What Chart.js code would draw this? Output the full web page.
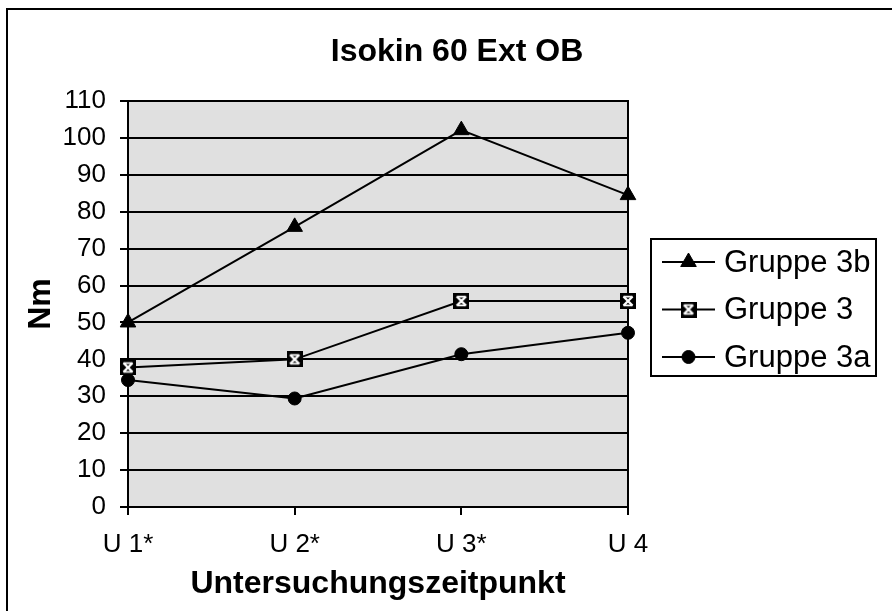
<!DOCTYPE html>
<html><head><meta charset="utf-8">
<script src="https://cdn.jsdelivr.net/npm/chart.js@4/dist/chart.umd.min.js"></script>
<style>html,body{margin:0;padding:0;background:#fff}canvas{display:block}</style>
</head><body>
<canvas id="c" width="892" height="611"></canvas>
<script>
const categories = ['U 1*', 'U 2*', 'U 3*', 'U 4'];
const seriesNames = ['Gruppe 3b', 'Gruppe 3', 'Gruppe 3a'];
const gruppe3b = [50, 75.9, 102.1, 84.5];
const gruppe3 = [37.8, 40.0, 55.8, 55.8];
const gruppe3a = [34.4, 29.4, 41.4, 47.2];
const yMin = 0, yMax = 110, yStep = 10;
const chartTitle = 'Isokin 60 Ext OB';
const xTitle = 'Untersuchungszeitpunkt';
const yTitle = 'Nm';

const FONT = "'Liberation Sans', Arial, sans-serif";
Chart.defaults.font.family = FONT;
Chart.defaults.color = '#000';

function starMarker() {
  const s = 16;
  const c = document.createElement('canvas');
  c.width = s; c.height = s;
  const g = c.getContext('2d');
  g.fillStyle = '#000';
  g.fillRect(0, 0, s, s);
  g.strokeStyle = '#fff';
  g.lineCap = 'butt';
  g.lineWidth = 2.4;
  g.beginPath();
  g.moveTo(3.5, 3.5); g.lineTo(12.5, 12.5);
  g.moveTo(12.5, 3.5); g.lineTo(3.5, 12.5);
  g.stroke();
  g.lineWidth = 1.6;
  g.beginPath();
  g.moveTo(3.5, 3.6); g.lineTo(12.5, 3.6);
  g.moveTo(3.5, 12.4); g.lineTo(12.5, 12.4);
  g.stroke();
  return c;
}
const star = starMarker();

const styles = [
  { pointStyle: 'triangle', radius: 9 },
  { pointStyle: star, radius: 8 },
  { pointStyle: 'circle', radius: 6.5 }
];
const seriesData = [gruppe3b, gruppe3, gruppe3a];

const datasets = seriesNames.map((name, i) => ({
  label: name,
  data: seriesData[i],
  borderColor: '#000',
  backgroundColor: '#000',
  borderWidth: 2,
  tension: 0,
  pointStyle: styles[i].pointStyle,
  pointRadius: styles[i].radius,
  pointHoverRadius: styles[i].radius,
  pointBackgroundColor: '#000',
  pointBorderColor: '#000',
  pointBorderWidth: 1,
  clip: false
}));

const framePlugin = {
  id: 'frame',
  afterLayout(chart) {
    chart.titleBlock.left = 22;
    chart.titleBlock.right = 892;
    chart.titleBlock.width = 870;
  },
  beforeDraw(chart) {
    const ctx = chart.ctx, a = chart.chartArea;
    ctx.save();
    ctx.fillStyle = '#fff';
    ctx.fillRect(0, 0, chart.width, chart.height);
    ctx.fillStyle = '#000';
    ctx.fillRect(6, 8, 2, chart.height - 8);
    ctx.fillRect(6, 8, chart.width - 6, 2);
    ctx.fillStyle = '#e0e0e0';
    ctx.fillRect(a.left, a.top, a.right - a.left, a.bottom - a.top);
    ctx.restore();
  },
  beforeDatasetsDraw(chart) {
    const ctx = chart.ctx, a = chart.chartArea;
    ctx.save();
    ctx.strokeStyle = '#000';
    ctx.lineWidth = 2;
    ctx.beginPath();
    ctx.moveTo(a.right, a.top - 1);
    ctx.lineTo(a.right, a.bottom + 1);
    ctx.moveTo(a.left, a.top);
    ctx.lineTo(a.right, a.top);
    ctx.stroke();
    ctx.restore();
  },
  afterDraw(chart) {
    const ctx = chart.ctx;
    ctx.save();
    const bx = 651, by = 239, bw = 225, bh = 137;
    ctx.fillStyle = '#fff';
    ctx.fillRect(bx, by, bw, bh);
    ctx.strokeStyle = '#000';
    ctx.lineWidth = 2;
    ctx.strokeRect(bx, by, bw, bh);
    const rows = [262, 309.5, 357];
    chart.data.datasets.forEach((ds, i) => {
      const y = rows[i];
      ctx.strokeStyle = '#000';
      ctx.lineWidth = 2;
      ctx.beginPath();
      ctx.moveTo(662, y);
      ctx.lineTo(715, y);
      ctx.stroke();
      ctx.fillStyle = '#000';
      ctx.lineWidth = 1;
      Chart.helpers.drawPoint(ctx, {
        pointStyle: ds.pointStyle, radius: ds.pointRadius, rotation: 0, borderWidth: 1
      }, 688.5, y);
      ctx.fillStyle = '#000';
      ctx.font = '31px ' + FONT;
      ctx.textBaseline = 'middle';
      ctx.textAlign = 'left';
      ctx.fillText(ds.label, 724, y + 1);
    });
    ctx.restore();
  }
};

new Chart(document.getElementById('c'), {
  type: 'line',
  data: { labels: categories, datasets },
  options: {
    responsive: false,
    animation: false,
    events: [],
    layout: { padding: { left: 10, right: 264, top: 10, bottom: 0 } },
    plugins: {
      legend: { display: false },
      tooltip: { enabled: false },
      title: {
        display: true,
        text: chartTitle,
        color: '#000',
        font: { size: 32, weight: 'bold', family: FONT },
        padding: { top: 22.5, bottom: 30.1 }
      }
    },
    scales: {
      x: {
        offset: false,
        afterFit(scale) { scale.height = 104; },
        grid: { display: true, drawOnChartArea: false, drawTicks: true, tickLength: 8, color: '#000', lineWidth: 2 },
        border: { display: true, color: '#000', width: 2 },
        ticks: { color: '#000', font: { size: 26, family: FONT }, padding: 14, maxRotation: 0, autoSkip: false },
        title: { display: true, text: xTitle, color: '#000', font: { size: 32, weight: 'bold', family: FONT }, padding: { top: 0, bottom: 8 } }
      },
      y: {
        min: yMin, max: yMax,
        afterFit(scale) { scale.width = 118; },
        grid: { display: true, drawTicks: true, tickLength: 8, color: '#000', lineWidth: 2 },
        border: { display: true, color: '#000', width: 2 },
        ticks: { stepSize: yStep, color: '#000', font: { size: 26, family: FONT }, padding: 14 },
        title: { display: true, text: yTitle, color: '#000', font: { size: 32, weight: 'bold', family: FONT }, padding: { top: 12, bottom: 0 } }
      }
    }
  },
  plugins: [framePlugin]
});
</script>
</body></html>
